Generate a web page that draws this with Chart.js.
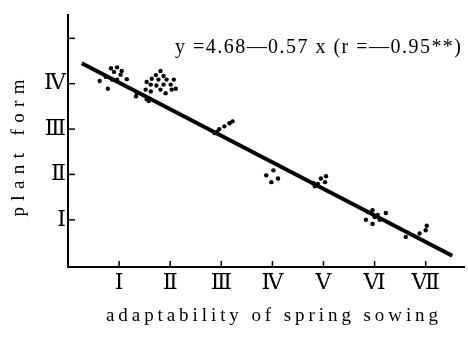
<!DOCTYPE html>
<html lang="en">
  <head>
    <meta charset="UTF-8" />
    <title>plant form vs adaptability</title>
    <script src="https://cdn.jsdelivr.net/npm/chart.js"></script>
    <style>
      body { margin: 0; background: #fff; }
    </style>
  </head>
  <body>
    <canvas id="chart" width="468" height="339"></canvas>
    <script>
      // tick labels
      const xLabels = ['Ⅰ', 'Ⅱ', 'Ⅲ', 'Ⅳ', 'Ⅴ', 'Ⅵ', 'Ⅶ'];
      const yLabels = ['Ⅰ', 'Ⅱ', 'Ⅲ', 'Ⅳ'];
      const xTicks = [1, 2, 3, 4, 5, 6, 7];
      const yTicks = [1, 2, 3, 4, 5];

      // scatter points
      const dotX = [
        0.84, 0.96, 1.05, 0.90, 1.03, 1.15, 0.62, 0.78, 0.74, 0.86, 0.96,
        1.81, 1.72, 1.87, 1.64, 1.77, 1.93, 2.07, 1.54, 1.62, 1.73, 1.87, 2.01, 2.11,
        1.52, 1.62, 1.81, 1.91, 2.03, 1.35, 1.33, 1.54, 1.58,
        2.87, 2.96, 3.06, 3.16, 3.22, 2.92,
        3.88, 4.02, 4.11, 3.98,
        4.80, 4.83, 4.95, 5.05, 5.03, 4.89,
        5.87, 5.96, 6.06, 6.22, 5.83, 5.96, 6.10, 6.00,
        6.61, 6.88, 7.00, 7.02
      ];
      const dotY = [
        4.34, 4.36, 4.28, 4.26, 4.20, 4.10, 4.06, 3.89, 4.15, 4.09, 4.09,
        4.28, 4.19, 4.17, 4.11, 4.09, 4.09, 4.09, 4.04, 3.98, 3.96, 3.98, 3.98, 3.89,
        3.87, 3.83, 3.87, 3.79, 3.87, 3.79, 3.72, 3.66, 3.62,
        2.91, 3.00, 3.06, 3.13, 3.17, 2.94,
        1.98, 2.09, 1.91, 1.83,
        1.81, 1.74, 1.91, 1.96, 1.83, 1.79,
        1.17, 1.21, 1.11, 1.15, 1.00, 0.91, 1.00, 1.06,
        0.62, 0.70, 0.77, 0.87
      ];

      // regression line end points
      const lineX = [0.27, 7.52];
      const lineY = [4.45, 0.21];

      const eqText = 'y =4.68—0.57 x (r =—0.95**)';
      const xTitle = 'adaptability of spring sowing';
      const yTitle = 'plant form';

      const serif = '"Liberation Serif", "DejaVu Serif", serif';
      const numFont = '"DejaVu Serif", "Noto Sans CJK JP", serif';

      // draw text stretched to a given width (letter spacing)
      function spacedText(ctx, txt, x, y, width) {
        ctx.letterSpacing = '0px';
        const w = ctx.measureText(txt).width;
        const sp = (width - w) / (txt.length - 1);
        ctx.letterSpacing = sp + 'px';
        ctx.textAlign = 'left';
        ctx.fillText(txt, x - width / 2, y);
        ctx.letterSpacing = '0px';
      }

      const extras = {
        id: 'extras',
        afterDraw(chart) {
          const ctx = chart.ctx;
          const xs = chart.scales.x;
          const ys = chart.scales.y;
          const area = chart.chartArea;
          ctx.save();
          ctx.strokeStyle = '#000';
          ctx.lineWidth = 1.5;
          // inward tick marks
          xTicks.forEach(v => {
            const px = xs.getPixelForValue(v);
            ctx.beginPath();
            ctx.moveTo(px, area.bottom);
            ctx.lineTo(px, area.bottom - 6);
            ctx.stroke();
          });
          yTicks.forEach(v => {
            const py = ys.getPixelForValue(v);
            ctx.beginPath();
            ctx.moveTo(area.left, py);
            ctx.lineTo(area.left + 7, py);
            ctx.stroke();
          });

          ctx.fillStyle = '#000';
          ctx.textBaseline = 'middle';
          // equation
          ctx.font = '20px ' + serif;
          spacedText(ctx, eqText, 318, 48, 286);
          // axis titles
          ctx.font = '19px ' + serif;
          spacedText(ctx, xTitle, 272, 316, 332);
          ctx.translate(19, 148);
          ctx.rotate(-Math.PI / 2);
          spacedText(ctx, yTitle, 0, 0, 137);
          ctx.restore();
        }
      };

      new Chart(document.getElementById('chart'), {
        type: 'scatter',
        data: {
          datasets: [
            {
              label: 'regression',
              type: 'line',
              data: lineX.map((x, i) => ({ x: x, y: lineY[i] })),
              borderColor: '#000',
              borderWidth: 4,
              pointRadius: 0,
              fill: false
            },
            {
              label: 'samples',
              data: dotX.map((x, i) => ({ x: x, y: dotY[i] })),
              backgroundColor: '#000',
              borderColor: '#000',
              pointRadius: 2.2,
              borderWidth: 0
            }
          ]
        },
        options: {
          responsive: false,
          animation: false,
          layout: { padding: { left: 0, right: 2, top: 6, bottom: 0 } },
          plugins: {
            legend: { display: false },
            tooltip: { enabled: false }
          },
          scales: {
            x: {
              type: 'linear',
              min: 0,
              max: 7.75,
              grid: { display: false, drawTicks: false },
              border: { display: true, color: '#000', width: 2 },
              afterBuildTicks: s => { s.ticks = xTicks.map(v => ({ value: v })); },
              afterFit: s => { s.height = 72; },
              ticks: {
                padding: 3,
                color: '#000',
                font: { family: numFont, size: 22 },
                callback: v => xLabels[v - 1] || ''
              }
            },
            y: {
              type: 'linear',
              min: -0.04,
              max: 5.51,
              grid: { display: false, drawTicks: false },
              border: { display: true, color: '#000', width: 2 },
              afterBuildTicks: s => { s.ticks = yTicks.map(v => ({ value: v })); },
              afterFit: s => { s.width = 68; },
              ticks: {
                padding: 2,
                color: '#000',
                font: { family: numFont, size: 22 },
                callback: v => yLabels[v - 1] || ''
              }
            }
          }
        },
        plugins: [extras]
      });
    </script>
  </body>
</html>
